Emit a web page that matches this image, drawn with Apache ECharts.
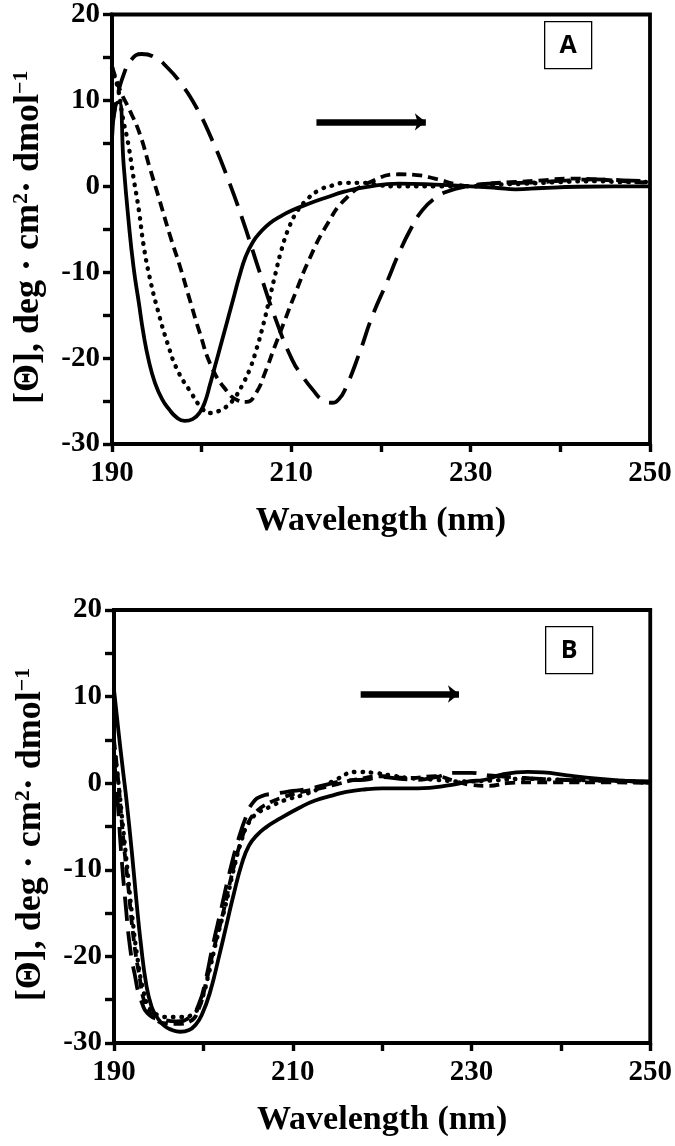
<!DOCTYPE html>
<html>
<head>
<meta charset="utf-8">
<script src="https://cdn.jsdelivr.net/npm/echarts@6/dist/echarts.min.js"></script>
<style>
html,body{margin:0;padding:0;background:#fff;}
#c{width:675px;height:1146px;}
</style>
</head>
<body>
<div id="c"></div>
<script>
// ---------- Axis ticks ----------
const xTicks = [190, 210, 230, 250];
const yTicks = [-30, -20, -10, 0, 10, 20];
const xName = 'Wavelength (nm)';
const yName = '{m|[Θ], deg · cm}{s|2}{m|· dmol}{s|−1}';

// ---------- Panel A ----------
const aSolidX = [190, 190.4, 190.8, 191.3, 191.8, 192.4, 193, 193.5, 194.1, 194.8, 195.6, 196.4, 197.2, 198.1, 199, 199.8, 200.4, 200.9, 201.5, 202.1, 202.8, 203.5, 204.2, 204.9, 205.7, 206.6, 207.6, 208.8, 210.1, 212, 213.9, 216, 218.3, 222, 226, 230, 233, 235, 238, 242, 246, 250];
const aSolidY = [5.5, 9.5, 9.8, 2.5, -3.5, -9.4, -13.6, -17.1, -20.3, -22.9, -24.8, -26, -26.9, -27.3, -27.1, -26.3, -25, -23.2, -20.9, -18.6, -15.9, -13.2, -10.5, -8.2, -6.5, -5.3, -4.3, -3.5, -2.8, -2, -1.3, -0.6, -0.1, 0.3, 0.2, 0, -0.2, -0.35, -0.2, -0.05, 0, 0];

const aDotX = [190, 190.7, 191.2, 191.8, 192.4, 193, 193.5, 194.2, 195.1, 196.2, 197.3, 198.8, 200, 200.9, 201.8, 202.7, 203.7, 204.6, 205.4, 206.1, 206.8, 207.5, 208.2, 208.9, 209.7, 210.6, 211.6, 213, 214.6, 216, 218.3, 220, 222, 226, 230, 233, 236, 240, 244, 247, 250];
const aDotY = [13.8, 11.2, 8, 5, 1, -2.8, -6.7, -10.6, -14.4, -18.3, -21.4, -24, -25.8, -26.4, -26.2, -25.7, -24.6, -23, -21.2, -19, -16.4, -13.4, -10.3, -7.4, -4.9, -3, -1.7, -0.5, 0.1, 0.4, 0.4, 0.1, 0, 0, 0, 0.2, 0.3, 0.5, 0.6, 0.5, 0.5];

const aDashX = [190, 190.9, 192, 193.1, 194.2, 195.3, 196.4, 197.6, 198.7, 199.8, 201.1, 202.7, 204, 205, 206.1, 207.1, 208.1, 209.2, 210.5, 212, 213.9, 216.1, 219, 222, 224, 226, 228.5, 230, 232, 235, 238, 241, 244, 247, 250];
const aDashY = [14, 11.2, 8.8, 6.1, 2.2, -1.6, -5.5, -9.4, -13.3, -17.1, -21, -23.7, -24.9, -25.1, -24, -21.6, -18.8, -15.8, -12.3, -8.5, -4.6, -1.4, 0.6, 1.4, 1.3, 0.9, 0.2, 0, 0.3, 0.5, 0.7, 0.9, 0.8, 0.6, 0.4];

const aLongX = [190, 190.5, 191.3, 192.2, 193.3, 194.8, 196.2, 197.6, 199.4, 201.2, 202.7, 204.6, 206.5, 208.3, 210.1, 211.3, 212.4, 213.5, 214.5, 215.3, 216.1, 217.6, 219, 220.6, 222, 223.3, 224.6, 226, 227.4, 229.7, 232, 235, 238, 241, 244, 247, 250];
const aLongY = [7, 10, 13, 14.8, 15.4, 15, 13.8, 12.1, 9.2, 5.3, 1.5, -4, -10.1, -15.6, -20.2, -22.2, -23.7, -24.9, -25.2, -24.8, -23.4, -19.4, -15.2, -11.3, -7.8, -5, -2.8, -1.4, -0.6, 0, 0.3, 0.4, 0.5, 0.7, 0.8, 0.7, 0.6];

// ---------- Panel B ----------
const bSolidX = [190, 190.5, 191, 191.4, 192, 192.5, 193, 193.6, 194.2, 194.8, 195.6, 196.5, 197.4, 198.4, 199.2, 199.8, 200.7, 201.8, 202.6, 203.4, 204.3, 205.1, 206, 207, 208.2, 210.8, 212.5, 214.5, 216, 218.2, 220, 224, 227.8, 229.7, 231.5, 233.4, 236.3, 238, 240.7, 244.4, 247, 250];
const bSolidY = [10.8, 6, 1.5, -2, -8, -13.5, -18.5, -23.2, -25.8, -27, -28, -28.5, -28.7, -28.5, -27.8, -26.8, -24.3, -19.8, -16.3, -12.8, -9.3, -7.2, -6, -5.1, -4.3, -2.8, -2, -1.4, -1, -0.7, -0.6, -0.6, -0.2, 0.2, 0.4, 1.0, 1.3, 1.25, 0.9, 0.5, 0.3, 0];

const bDotX = [190, 190.5, 191, 191.5, 192, 192.6, 193.3, 194, 195, 196, 197.5, 199, 199.8, 200.6, 201.5, 202.5, 203.5, 204.3, 205, 206, 207.5, 209, 211, 213, 215, 217, 219, 221, 223, 226, 229, 232, 236, 240, 245, 250];
const bDotY = [4, 0, -5, -10, -15, -20, -24, -26, -26.8, -27, -27, -26.5, -25, -22, -18, -14, -9.5, -6.5, -4.7, -3.5, -2.7, -2, -1.4, -0.6, 0.5, 1.3, 1.2, 0.9, 0.6, 0.4, 0.2, 0.3, 0.5, 0.4, 0.3, 0.1];

const bDashX = [190, 190.5, 191, 191.6, 192.2, 192.8, 193.5, 194.5, 195.5, 197, 198.5, 199.5, 200.3, 201.2, 202.2, 203.2, 204.2, 205, 206, 207.5, 209, 211, 213, 215, 217, 220, 223, 226, 228, 230, 232, 234, 237, 240, 245, 250];
const bDashY = [5, 0, -6, -12, -18, -22, -25.5, -27, -27.7, -27.8, -27.5, -26, -23, -19, -15, -10.5, -6.7, -4.6, -3.2, -2.2, -1.6, -1, -0.6, -0.1, 0.4, 0.8, 0.6, 0.8, 0.3, -0.2, -0.3, 0, 0.1, 0.1, 0.1, 0];

const bLongX = [190, 190.4, 190.8, 191.3, 191.8, 192.3, 193, 194, 195.5, 197, 198.5, 199.5, 200.3, 201, 202, 203, 204, 204.8, 205.5, 206.5, 208, 210, 212, 214, 216, 218, 220, 222, 224, 226, 228, 230, 232, 236, 240, 245, 250];
const bLongY = [3, -2, -8, -14, -19, -22, -25, -26.8, -27.3, -27.5, -27, -25.5, -22.5, -19, -14.5, -10, -6.2, -3.8, -2.3, -1.5, -1.2, -0.9, -0.6, -0.1, 0.3, 0.4, 0.7, 0.5, 0.4, 0.7, 1.2, 1.2, 0.9, 0.6, 0.4, 0.3, 0.2];

// ---------- Arrows (annotation, data coords) ----------
const arrowA = [[212.8, 7.5], [225, 7.5]];
const arrowB = [[217.6, 10.3], [228.6, 10.3]];

function pairs(xs, ys) { return xs.map((x, i) => [x, ys[i]]); }

const serif = 'Liberation Serif';
const styles = {
  solid: { type: 'solid', width: 3.8 },
  dot: { type: [0.5, 8], width: 4.4, cap: 'round' },
  dash: { type: [10, 6], width: 3.8 },
  long: { type: [24, 11], width: 3.8 }
};

function mkSeries(name, xs, ys, st, idx, arrow) {
  const s = {
    name: name, type: 'line', xAxisIndex: idx, yAxisIndex: idx,
    data: pairs(xs, ys), showSymbol: false, symbol: 'none',
    smooth: 0.5,
    lineStyle: Object.assign({ color: '#000', join: 'round' }, st),
    silent: true, animation: false, z: 3
  };
  if (arrow) {
    s.markLine = {
      silent: true, animation: false,
      symbol: ['none', 'arrow'], symbolSize: [13, 11],
      label: { show: false },
      lineStyle: { color: '#000', width: 6.5, type: 'solid' },
      data: [[{ coord: arrow[0] }, { coord: arrow[1] }]]
    };
  }
  return s;
}

function xAxisCfg(idx) {
  return {
    type: 'value', gridIndex: idx, min: 190, max: 250, interval: 10,
    name: xName, nameLocation: 'middle', nameGap: 60,
    nameTextStyle: { fontFamily: serif, fontWeight: 'bold', fontSize: 34, color: '#000' },
    axisLine: { show: true, onZero: false, lineStyle: { color: '#000', width: 3.8 } },
    axisTick: { show: true, inside: false, length: 8, lineStyle: { color: '#000', width: 3.4 } },
    axisLabel: { margin: 15, fontFamily: serif, fontWeight: 'bold', fontSize: 29, color: '#000',
      formatter: v => (xTicks.indexOf(v) >= 0 ? String(v) : '') },
    splitLine: { show: false }
  };
}
function yAxisCfg(idx) {
  return {
    type: 'value', gridIndex: idx, min: -30, max: 20, interval: 5,
    name: yName, nameLocation: 'middle', nameGap: 64, nameRotate: 90,
    nameTextStyle: {
      fontFamily: serif, fontWeight: 'bold', fontSize: 36, color: '#000', padding: [0, 16, 0, 0],
      rich: {
        m: { fontFamily: serif, fontWeight: 'bold', fontSize: 36, lineHeight: 38, color: '#000' },
        s: { fontFamily: serif, fontWeight: 'bold', fontSize: 22, lineHeight: 38, verticalAlign: 'top', color: '#000' }
      }
    },
    axisLine: { show: true, onZero: false, lineStyle: { color: '#000', width: 3.8 } },
    axisTick: { show: true, inside: false, length: 9, lineStyle: { color: '#000', width: 3.4 } },
    axisLabel: { margin: 12, fontFamily: serif, fontWeight: 'bold', fontSize: 29, color: '#000',
      formatter: v => (yTicks.indexOf(v) >= 0 ? String(v) : '') },
    splitLine: { show: false }
  };
}

function panelBox(letter, x, y) {
  return {
    type: 'group', left: x, top: y, silent: true,
    children: [
      { type: 'rect', shape: { x: 0, y: 0, width: 47, height: 47 }, style: { fill: '#fff', stroke: '#000', lineWidth: 1.3 } },
      { type: 'text', x: 23.5, y: 24.5, style: { text: letter, fontFamily: 'Open Sans', fontWeight: 'bold', fontSize: 25, fill: '#000', align: 'center', verticalAlign: 'middle' } }
    ]
  };
}

const chart = echarts.init(document.getElementById('c'), null, { renderer: 'canvas' });
chart.setOption({
  animation: false,
  backgroundColor: '#fff',
  grid: [
    { left: 112, top: 14, width: 538, height: 430, show: true, borderColor: '#000', borderWidth: 3.8, backgroundColor: 'transparent' },
    { left: 114, top: 610, width: 537, height: 433, show: true, borderColor: '#000', borderWidth: 3.8, backgroundColor: 'transparent' }
  ],
  xAxis: [xAxisCfg(0), xAxisCfg(1)],
  yAxis: [yAxisCfg(0), yAxisCfg(1)],
  series: [
    mkSeries('A solid', aSolidX, aSolidY, styles.solid, 0, arrowA),
    mkSeries('A dotted', aDotX, aDotY, styles.dot, 0),
    mkSeries('A dashed', aDashX, aDashY, styles.dash, 0),
    mkSeries('A long dashed', aLongX, aLongY, styles.long, 0),
    mkSeries('B solid', bSolidX, bSolidY, styles.solid, 1, arrowB),
    mkSeries('B dotted', bDotX, bDotY, styles.dot, 1),
    mkSeries('B dashed', bDashX, bDashY, styles.dash, 1),
    mkSeries('B long dashed', bLongX, bLongY, styles.long, 1)
  ],
  graphic: [panelBox('A', 544, 21), panelBox('B', 545, 626)]
});
</script>
</body>
</html>
